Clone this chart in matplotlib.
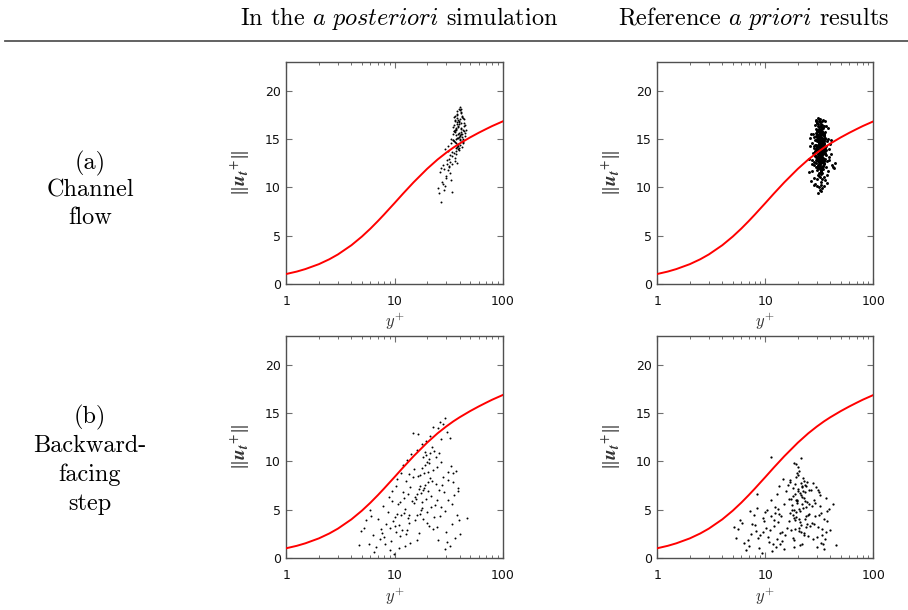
import matplotlib
matplotlib.use('Agg')
import matplotlib.pyplot as plt
from matplotlib.lines import Line2D
from matplotlib.ticker import FixedLocator, NullFormatter

plt.rcParams['mathtext.fontset'] = 'cm'

# law-of-the-wall reference curve
curve_yplus = [1, 1.25, 1.5, 2, 2.5, 3, 4, 5, 6, 7, 8, 9, 10, 12, 15, 20, 25, 30, 35, 40, 50, 60, 70, 80, 100]
curve_u = [1.01, 1.26, 1.52, 2.03, 2.54, 3.04, 4.00, 4.90, 5.73, 6.49, 7.18, 7.81, 8.37, 9.36, 10.53,
           11.93, 12.90, 13.60, 14.14, 14.56, 15.20, 15.68, 16.06, 16.38, 16.86]

# (a) channel flow, a posteriori
chan_post_yplus = [
    36.1, 38.4, 40.2, 42.7, 39.1, 35.5, 37.8, 41.3, 44.0, 38.9,
    36.8, 40.9, 43.2, 37.2, 39.7, 41.8, 35.0, 38.1, 42.2, 45.1,
    39.4, 36.4, 40.5, 43.8, 37.5, 38.7, 41.0, 34.6, 39.9, 42.9,
    36.0, 38.2, 40.7, 44.6, 37.0, 39.3, 41.5, 35.8, 38.6, 43.4,
    31.2, 33.5, 35.9, 30.4, 34.2, 37.3, 32.6, 36.6, 39.8, 33.0,
    30.9, 35.1, 38.0, 32.1, 34.7, 31.7, 36.2, 33.9, 29.6, 37.9,
    28.4, 30.1, 27.2, 31.8, 29.3, 32.9, 26.5, 28.9, 30.7, 33.6,
    27.8, 29.9, 26.0, 31.4, 34.2, 27.0, 28.1, 25.4, 26.9, 32.3,
    37.6, 40.0, 42.4, 36.3, 39.0, 41.6, 38.3, 44.9, 35.3, 40.4,
    37.0, 43.0, 38.8, 36.7, 41.1, 39.6, 34.4, 42.0, 38.0, 40.8,
    36.5, 39.2, 43.6, 37.4, 41.9, 35.6, 38.5, 40.1, 46.2, 34.0,
    42.5, 37.9, 39.5, 36.9, 41.4, 38.1, 44.3, 35.2, 40.6, 37.1]
chan_post_u = [
    15.8, 16.4, 17.1, 16.0, 15.2, 14.8, 17.6, 15.5, 16.7, 14.5,
    16.1, 18.2, 15.0, 15.4, 16.9, 14.2, 16.3, 17.9, 17.3, 15.7,
    16.6, 17.0, 14.9, 15.9, 14.4, 15.1, 16.2, 15.6, 18.4, 14.7,
    17.4, 16.8, 15.3, 16.5, 16.0, 14.1, 17.7, 15.9, 15.6, 17.2,
    13.8, 14.6, 13.1, 12.9, 12.4, 14.1, 13.4, 12.7, 13.9, 15.0,
    14.3, 13.6, 12.5, 12.2, 14.9, 13.0, 14.7, 13.3, 14.0, 15.1,
    11.9, 11.2, 10.6, 12.1, 10.1, 11.5, 11.6, 9.7, 12.4, 10.8,
    12.3, 11.0, 9.4, 11.8, 9.5, 8.5, 10.4, 9.9, 12.0, 12.6,
    16.6, 15.4, 17.4, 16.9, 14.0, 16.1, 17.0, 15.3, 15.9, 18.0,
    13.8, 14.6, 16.3, 15.0, 17.8, 15.7, 14.9, 15.2, 17.2, 16.7,
    16.0, 18.1, 16.4, 14.6, 14.8, 16.5, 14.3, 15.0, 16.0, 13.7,
    15.6, 17.5, 16.8, 13.5, 15.8, 14.2, 17.1, 17.3, 14.4, 16.2]

# (a) channel flow, a priori
chan_prio_yplus = [
    31.5, 33.2, 29.8, 34.6, 32.1, 30.4, 35.3, 31.0, 33.8, 32.7,
    29.2, 34.0, 31.9, 30.9, 33.4, 32.4, 28.7, 35.8, 31.3, 34.3,
    30.1, 32.9, 33.6, 31.7, 29.5, 34.9, 32.2, 30.6, 33.0, 31.1,
    36.2, 32.6, 29.9, 33.9, 31.4, 30.3, 34.5, 32.0, 28.9, 33.3,
    32.3, 30.7, 34.1, 31.6, 33.5, 29.4, 35.0, 32.8, 30.0, 33.1,
    31.2, 34.7, 32.5, 28.5, 33.7, 30.5, 35.6, 31.8, 29.6, 34.2,
    32.0, 30.8, 33.4, 31.5, 36.5, 29.1, 32.6, 34.8, 30.2, 31.0,
    33.2, 35.2, 31.9, 30.4, 32.9, 28.2, 34.4, 31.3, 33.6, 29.7,
    27.5, 26.8, 37.4, 38.5, 28.0, 36.8, 26.2, 39.3, 27.9, 37.9,
    29.0, 35.5, 25.6, 38.9, 30.0, 36.0, 27.1, 40.2, 28.4, 37.1,
    26.5, 35.9, 30.3, 38.1, 27.3, 41.5, 29.3, 36.4, 25.2, 39.8,
    31.6, 34.6, 28.8, 42.8, 30.8, 37.6, 26.0, 43.5, 33.0, 44.6,
    31.8, 33.0, 30.6, 32.4, 34.3, 31.2, 29.9, 33.7, 32.1, 30.9,
    34.9, 31.5, 32.8, 30.1, 33.4, 35.4, 31.0, 32.6, 29.3, 34.0,
    31.7, 30.4, 33.3, 32.2, 35.1, 28.6, 33.9, 31.4, 30.8, 32.9,
    34.6, 29.6, 32.3, 31.1, 33.5, 30.2, 35.7, 32.7, 31.9, 34.1,
    30.5, 33.8, 28.3, 32.0, 35.0, 27.0, 31.4, 36.7, 29.7, 34.4,
    26.4, 32.6, 38.0, 30.2, 33.2, 40.8, 28.1, 31.9, 37.0, 35.3,
    31.0, 32.5, 33.9, 30.3, 34.8, 29.0, 32.2, 33.1, 31.6, 30.6,
    35.5, 32.8, 31.3, 33.6, 29.8, 34.4, 30.9, 32.0, 33.3, 31.9,
    28.8, 34.0, 32.4, 30.0, 35.9, 31.4, 33.0, 29.5, 32.7, 34.6,
    30.7, 31.8, 33.8, 29.3, 32.1, 35.2, 30.4, 33.5, 31.2, 34.2,
    32.9, 28.4, 31.7, 33.4, 30.2, 36.0, 32.3, 29.7, 34.9, 31.5,
    33.7, 30.5, 32.6, 35.0, 29.9, 31.1, 34.5, 32.0, 30.8, 33.2]
chan_prio_u = [
    14.2, 13.5, 14.8, 12.9, 15.6, 13.1, 14.5, 12.3, 15.1, 13.8,
    14.0, 16.2, 12.7, 15.4, 14.6, 11.9, 13.3, 14.1, 16.0, 13.0,
    15.9, 12.5, 14.9, 13.6, 12.1, 15.3, 14.3, 16.4, 11.6, 15.0,
    13.4, 16.6, 13.9, 12.2, 14.7, 15.2, 13.7, 12.8, 14.4, 15.8,
    13.2, 14.4, 15.5, 12.6, 13.9, 15.7, 12.4, 14.8, 11.8, 16.3,
    15.1, 13.6, 11.4, 14.1, 12.0, 13.5, 15.0, 16.8, 12.9, 14.6,
    15.3, 12.8, 13.0, 11.2, 14.3, 13.7, 16.1, 12.5, 14.2, 15.9,
    10.9, 14.0, 13.4, 16.0, 15.4, 12.3, 14.9, 13.1, 12.7, 13.8,
    13.6, 12.4, 14.8, 13.2, 11.0, 12.1, 14.3, 14.0, 15.6, 16.2,
    10.4, 16.9, 13.0, 12.8, 16.7, 10.8, 11.7, 13.5, 15.2, 11.3,
    10.7, 15.8, 10.1, 15.0, 12.9, 12.3, 17.0, 13.9, 11.6, 14.5,
    10.0, 11.1, 16.5, 12.1, 17.2, 12.7, 15.1, 12.0, 9.6, 12.5,
    14.5, 15.2, 13.3, 12.0, 14.7, 16.1, 14.0, 13.4, 15.7, 12.7,
    13.9, 11.5, 14.2, 15.3, 16.5, 13.6, 13.0, 10.6, 14.4, 15.0,
    12.4, 14.9, 11.9, 13.7, 15.5, 13.8, 14.3, 16.3, 12.2, 13.1,
    14.6, 13.2, 15.9, 14.8, 12.6, 16.7, 13.5, 11.7, 14.0, 12.9,
    9.4, 9.9, 10.3, 9.7, 10.2, 14.6, 17.1, 16.4, 16.9, 17.0,
    15.5, 10.3, 11.7, 10.9, 16.9, 14.9, 12.6, 17.1, 10.5, 16.4,
    13.0, 14.1, 12.6, 15.0, 13.7, 14.9, 16.0, 11.7, 12.4, 13.9,
    15.1, 14.4, 15.8, 13.2, 12.8, 14.0, 16.6, 12.9, 15.5, 13.5,
    13.4, 11.9, 16.4, 14.2, 13.8, 14.7, 12.1, 15.3, 13.3, 15.7,
    12.0, 11.1, 14.5, 12.5, 12.3, 14.8, 15.6, 16.2, 14.6, 13.1,
    13.6, 14.3, 15.2, 11.5, 13.9, 13.0, 14.9, 16.1, 12.7, 12.2,
    15.9, 11.3, 13.7, 15.4, 14.0, 16.9, 12.2, 15.0, 13.5, 14.6]

# (b) backward-facing step, a posteriori
bfs_post_yplus = [
    17.2, 19.5, 21.3, 18.0, 20.4, 16.1, 22.8, 18.7, 19.9, 17.6,
    23.5, 20.9, 16.8, 18.4, 21.9, 19.2, 24.3, 17.9, 20.1, 22.2,
    15.6, 18.9, 21.0, 19.6, 16.5, 23.0, 20.6, 18.1, 17.4, 24.8,
    19.0, 21.6, 16.3, 20.2, 22.5, 18.5, 19.8, 17.1, 21.4, 15.2,
    5.2, 6.3, 7.1, 8.4, 9.2, 10.5, 11.8, 6.8, 7.9, 9.7,
    12.5, 5.8, 8.0, 10.1, 13.2, 7.5, 6.0, 9.0, 11.2, 12.9,
    4.7, 8.7, 10.9, 13.7, 7.3, 5.5, 9.5, 11.5, 6.5, 12.2,
    8.2, 10.3, 14.0, 6.1, 9.9, 13.4, 7.7, 11.0, 4.9, 8.9,
    12.0, 14.2, 16.6, 19.4, 22.0, 25.1, 28.3, 13.5, 17.8, 21.2,
    24.0, 27.0, 15.1, 18.3, 23.3, 26.4, 30.5, 16.0, 20.7, 29.1,
    10.6, 14.8, 19.1, 24.6, 32.4, 13.0, 17.3, 22.6, 26.0, 31.0,
    26.2, 28.8, 31.5, 34.0, 36.9, 39.5, 27.6, 30.2, 33.1, 35.8,
    38.3, 25.5, 29.5, 32.6, 37.5, 46.8, 40.6, 27.1, 31.0, 35.0,
    24.5, 28.0, 33.8, 38.8, 26.7, 30.7, 36.1, 29.0, 34.6, 25.8,
    9.4, 10.8, 12.3, 13.9, 15.4, 11.3, 12.7, 14.5, 16.2, 10.0,
    11.9, 13.1, 14.9, 9.1, 15.8, 12.6, 10.4, 13.6, 16.9, 11.6]
bfs_post_u = [
    7.4, 6.1, 8.3, 5.2, 7.9, 4.4, 9.1, 8.8, 3.6, 6.7,
    5.5, 10.2, 7.1, 4.0, 6.4, 9.6, 7.7, 5.8, 4.8, 8.0,
    6.3, 7.2, 3.3, 10.7, 8.5, 4.2, 6.9, 9.3, 5.0, 6.0,
    7.6, 5.3, 6.6, 8.9, 3.0, 7.0, 9.9, 4.6, 10.9, 5.7,
    3.1, 2.4, 4.0, 3.5, 1.8, 4.6, 2.9, 1.1, 5.4, 3.8,
    5.1, 1.5, 2.2, 3.3, 4.1, 3.0, 5.0, 0.8, 5.8, 2.5,
    1.3, 4.8, 1.0, 3.6, 2.0, 3.9, 5.9, 4.4, 0.6, 6.2,
    1.4, 2.7, 1.6, 4.3, 0.4, 6.6, 2.6, 3.4, 2.8, 6.3,
    9.6, 10.8, 12.8, 12.1, 11.5, 13.4, 13.9, 8.7, 11.8, 12.6,
    10.4, 12.3, 9.2, 10.5, 11.1, 14.1, 13.0, 11.2, 9.8, 14.5,
    8.2, 12.9, 11.0, 9.4, 12.4, 10.1, 8.6, 13.6, 10.9, 8.9,
    4.3, 6.8, 8.1, 5.6, 9.0, 3.9, 7.6, 2.7, 9.5, 6.5,
    7.2, 1.9, 4.9, 1.2, 4.4, 4.1, 2.5, 9.9, 6.0, 7.9,
    3.2, 8.4, 3.5, 6.9, 5.3, 1.7, 2.1, 0.9, 8.8, 7.0,
    6.9, 5.6, 4.7, 7.3, 3.9, 2.3, 8.0, 5.9, 1.9, 4.2,
    6.8, 2.9, 8.4, 3.1, 6.1, 1.2, 7.5, 4.5, 2.6, 8.8]

# (b) backward-facing step, a priori
bfs_prio_yplus = [
    18.2, 20.5, 22.1, 19.3, 17.0, 24.2, 21.4, 19.9, 23.0, 18.8,
    25.6, 20.1, 17.7, 22.7, 19.0, 26.3, 21.0, 18.5, 23.8, 20.8,
    16.4, 22.4, 19.6, 24.9, 21.7, 18.0, 20.3, 27.1, 19.2, 23.3,
    17.4, 21.2, 24.5, 18.6, 22.0, 20.0, 25.2, 19.5, 16.8, 23.6,
    19.7, 21.8, 18.3, 23.1, 20.6, 17.2, 24.0, 19.1, 22.3, 20.9,
    18.9, 25.9, 21.5, 17.9, 23.5, 20.2, 19.4, 22.8, 26.8, 18.1,
    21.1, 24.7, 19.8, 17.6, 22.6, 20.4, 23.9, 18.7, 21.9, 27.6,
    16.6, 20.7, 24.4, 19.3, 22.2, 18.4, 25.3, 21.3, 17.1, 23.4,
    5.3, 6.1, 7.0, 8.2, 9.5, 10.8, 12.1, 13.4, 6.6, 7.8,
    9.0, 10.2, 11.5, 12.8, 5.8, 7.4, 8.7, 10.0, 11.1, 13.0,
    6.3, 8.0, 9.3, 10.6, 12.4, 5.6, 7.2, 8.5, 9.8, 11.8,
    13.7, 6.9, 8.3, 9.6, 11.3, 12.6, 7.6, 10.4, 14.2, 5.1,
    28.2, 30.5, 33.0, 35.7, 29.4, 31.9, 34.2, 37.6, 28.9, 32.3,
    36.1, 39.0, 30.0, 33.6, 27.5, 31.1, 34.9, 42.0, 29.8, 32.8,
    36.8, 28.5, 31.4, 35.2, 40.1, 29.1, 33.3, 44.8, 30.9, 37.2,
    12.9, 14.1, 15.3, 13.5, 14.8, 16.0, 12.3, 15.7, 13.8, 14.5,
    11.4, 15.0, 16.3, 12.0, 13.2, 14.3, 18.6, 21.6, 11.4, 8.3]
bfs_prio_u = [
    6.4, 5.1, 7.3, 4.2, 8.1, 5.8, 3.4, 6.9, 2.6, 7.7,
    4.6, 8.6, 5.5, 6.2, 3.0, 7.0, 4.9, 1.9, 5.3, 6.7,
    3.8, 8.3, 5.9, 2.3, 7.5, 4.4, 9.0, 3.6, 6.0, 4.0,
    2.9, 6.5, 7.9, 5.0, 1.5, 7.1, 5.6, 8.8, 4.7, 3.2,
    5.7, 6.3, 4.1, 7.6, 2.8, 6.1, 4.3, 8.4, 5.2, 3.7,
    6.6, 3.3, 7.8, 2.1, 6.8, 9.4, 4.8, 2.4, 5.4, 7.2,
    1.3, 4.5, 6.0, 5.0, 8.0, 3.1, 7.4, 3.9, 5.6, 2.0,
    6.1, 4.0, 3.5, 9.7, 6.9, 1.1, 7.0, 2.7, 7.9, 5.9,
    2.1, 3.6, 1.2, 2.8, 4.1, 1.7, 3.3, 4.6, 0.8, 4.5,
    2.4, 3.1, 0.7, 2.0, 3.9, 2.5, 1.0, 4.8, 2.9, 3.7,
    1.6, 3.4, 0.5, 2.2, 5.3, 3.0, 4.9, 2.1, 3.8, 1.4,
    2.6, 1.9, 5.2, 2.7, 4.3, 1.1, 3.5, 5.0, 1.8, 3.2,
    6.0, 3.2, 4.7, 2.0, 7.3, 5.4, 1.5, 3.8, 4.3, 6.5,
    2.7, 5.1, 1.1, 2.4, 7.8, 6.8, 4.0, 5.6, 2.2, 1.6,
    6.2, 3.5, 4.5, 0.9, 2.9, 5.7, 3.0, 1.3, 7.0, 4.9,
    6.6, 4.3, 2.4, 7.4, 5.6, 3.1, 4.7, 6.9, 1.5, 8.2,
    6.0, 0.9, 7.6, 3.9, 5.1, 2.7, 9.8, 10.3, 10.5, 6.6]

# marker size per panel: the a priori channel cloud is much denser
panels = [
    (chan_post_yplus, chan_post_u, 2.0),
    (chan_prio_yplus, chan_prio_u, 4.5),
    (bfs_post_yplus, bfs_post_u, 2.0),
    (bfs_prio_yplus, bfs_prio_u, 2.6),
]

W, H = 908, 610
fig = plt.figure(figsize=(W / 100, H / 100), dpi=100)

# axes boxes in pixels: left, top, right, bottom
boxes = [(286.3, 62.3, 502.7, 283.7), (657.3, 62.3, 873.3, 283.7),
         (286.3, 335.7, 502.7, 558.0), (657.3, 335.7, 873.3, 558.0)]

frame = '#505050'
for (x, y, ms), (l, t, r, b) in zip(panels, boxes):
    ax = fig.add_axes([l / W, 1 - b / H, (r - l) / W, (b - t) / H])
    ax.scatter(x, y, s=ms, c='black', linewidths=0, zorder=2)
    ax.plot(curve_yplus, curve_u, color='#ff0000', lw=1.4, zorder=3)
    ax.set_xscale('log')
    ax.set_xlim(1, 100)
    ax.set_ylim(0, 23)
    ax.xaxis.set_major_locator(FixedLocator([1, 10, 100]))
    ax.set_xticklabels(['1', '10', '100'])
    ax.xaxis.set_minor_locator(FixedLocator([2, 3, 4, 5, 6, 7, 8, 9, 20, 30, 40, 50, 60, 70, 80, 90]))
    ax.xaxis.set_minor_formatter(NullFormatter())
    ax.set_yticks([0, 5, 10, 15, 20])
    ax.tick_params(which='both', direction='in', top=True, right=True, color='#707070',
                   labelsize=9, labelcolor='#111111')
    ax.tick_params(which='major', length=4.5, width=0.8)
    ax.tick_params(which='minor', length=2.5, width=0.7)
    ax.tick_params(axis='x', pad=8)
    ax.tick_params(axis='y', pad=4)
    for sp in ax.spines.values():
        sp.set_color(frame)
        sp.set_linewidth(1.0)
    ax.set_xlabel(r'$y^{+}$', fontsize=12, color='#333333')
    ax.xaxis.set_label_coords(0.5, -0.125)
    ax.set_ylabel(r'$\Vert\mathbfit{u_t}^{+}\Vert$', fontsize=14, color='#333333',
                  math_fontfamily='stix')
    ax.yaxis.set_label_coords(-0.16, 0.5)

# column headers and separating rule
fig.text(399 / W, 1 - 19 / H, r'In the $\mathit{a\ posteriori}$ simulation', family='cmr10',
         fontsize=17.5, ha='center', va='center')
fig.text(754 / W, 1 - 19 / H, r'Reference $\mathit{a\ priori}$ results', family='cmr10',
         fontsize=17.5, ha='center', va='center')
fig.add_artist(Line2D([5 / W, 1.0], [1 - 41 / H, 1 - 41 / H], color='#555555', lw=1.3))

# row labels
for lines, y0, dy in [(['(a)', 'Channel', 'flow'], 163, 27.5),
                      (['(b)', 'Backward-', 'facing', 'step'], 417, 29)]:
    for i, s in enumerate(lines):
        fig.text(90 / W, 1 - (y0 + dy * i) / H, s, family='cmr10', fontsize=17.5,
                 ha='center', va='center')

fig.savefig('out.png', dpi=100)
